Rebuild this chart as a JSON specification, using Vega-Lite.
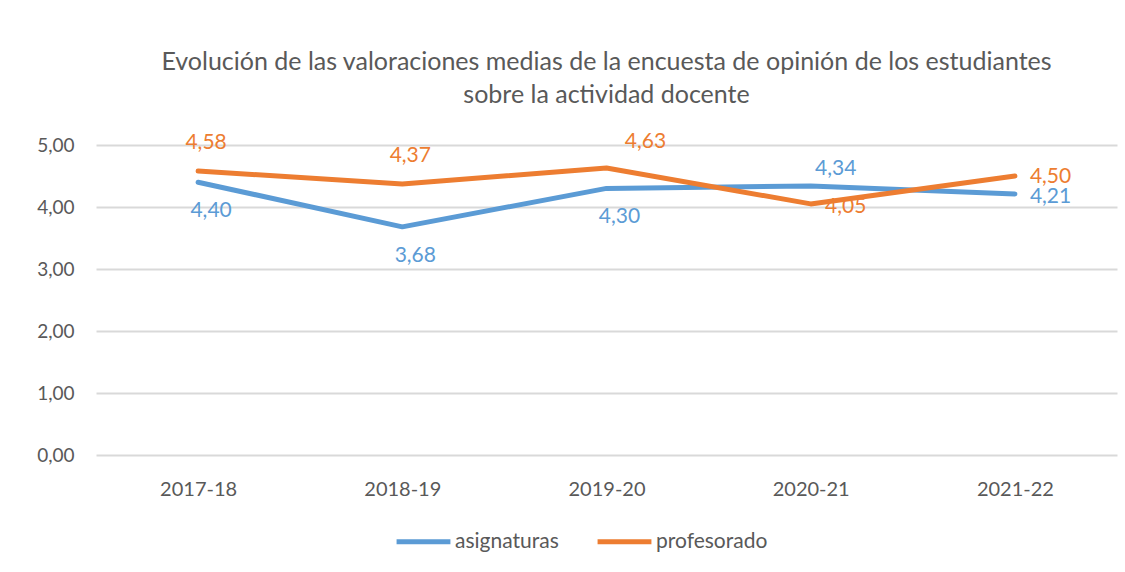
{
  "$schema": "https://vega.github.io/schema/vega-lite/v6.json",
  "autosize": {"type": "none"},
  "width": 1021,
  "height": 310,
  "padding": {"left": 96, "top": 145, "right": 8, "bottom": 117},
  "background": "white",
  "config": {
    "locale": {"number": {"decimal": ",", "thousands": ".", "grouping": [3], "currency": ["", " €"]}},
    "font": "Lato",
    "view": {"stroke": null}
  },
  "title": {
    "text": ["Evolución de las valoraciones medias de la encuesta de opinión de los estudiantes", "sobre la actividad docente"],
    "font": "Lato",
    "fontSize": 25,
    "fontWeight": "normal",
    "color": "#595959",
    "lineHeight": 33,
    "anchor": "middle",
    "offset": 23
  },
  "data": {"values": [
    {"curso": "2017-18", "serie": "asignaturas", "valor": 4.40},
    {"curso": "2018-19", "serie": "asignaturas", "valor": 3.68},
    {"curso": "2019-20", "serie": "asignaturas", "valor": 4.30},
    {"curso": "2020-21", "serie": "asignaturas", "valor": 4.34},
    {"curso": "2021-22", "serie": "asignaturas", "valor": 4.21},
    {"curso": "2017-18", "serie": "profesorado", "valor": 4.58},
    {"curso": "2018-19", "serie": "profesorado", "valor": 4.37},
    {"curso": "2019-20", "serie": "profesorado", "valor": 4.63},
    {"curso": "2020-21", "serie": "profesorado", "valor": 4.05},
    {"curso": "2021-22", "serie": "profesorado", "valor": 4.50}
  ]},
  "encoding": {
    "x": {"field": "curso", "type": "ordinal", "scale": {"type": "point", "padding": 0.5},
      "axis": {"title": null, "labelAngle": 0, "domain": false, "ticks": false, "labelFont": "Lato", "labelFontSize": 20, "labelColor": "#595959", "labelPadding": 24}},
    "y": {"field": "valor", "type": "quantitative", "scale": {"domain": [0, 5]},
      "axis": {"title": null, "values": [0, 1, 2, 3, 4, 5], "format": ".2f", "domain": false, "ticks": false, "gridColor": "#D9D9D9", "gridWidth": 2, "labelFont": "Lato", "labelFontSize": 19, "labelColor": "#595959", "labelPadding": 22}},
    "color": {"field": "serie", "type": "nominal",
      "scale": {"domain": ["asignaturas", "profesorado"], "range": ["#5B9BD5", "#ED7D31"]},
      "legend": {"title": null, "orient": "none", "legendX": 298, "legendY": 367, "direction": "horizontal", "symbolType": "stroke", "symbolStrokeWidth": 5, "symbolSize": 2900, "labelFont": "Lato", "labelFontSize": 21, "labelColor": "#595959", "columnPadding": 28, "labelOffset": 2}}
  },
  "layer": [
    {"mark": {"type": "line", "strokeWidth": 5, "strokeCap": "round", "strokeJoin": "round"}},
    {"transform": [{"filter": "datum.serie == 'profesorado' && (datum.curso == '2017-18' || datum.curso == '2018-19')"}],
     "mark": {"type": "text", "fontSize": 21, "dy": -28, "dx": 8},
     "encoding": {"text": {"field": "valor", "type": "quantitative", "format": ".2f"}}},
    {"transform": [{"filter": "datum.serie == 'profesorado' && datum.curso == '2019-20'"}],
     "mark": {"type": "text", "fontSize": 21, "dy": -26, "dx": 39},
     "encoding": {"text": {"field": "valor", "type": "quantitative", "format": ".2f"}}},
    {"transform": [{"filter": "datum.serie == 'profesorado' && datum.curso == '2020-21'"}],
     "mark": {"type": "text", "fontSize": 21, "dy": 3, "dx": 35},
     "encoding": {"text": {"field": "valor", "type": "quantitative", "format": ".2f"}}},
    {"transform": [{"filter": "datum.serie == 'profesorado' && datum.curso == '2021-22'"}],
     "mark": {"type": "text", "fontSize": 21, "align": "left", "dx": 15, "dy": 1},
     "encoding": {"text": {"field": "valor", "type": "quantitative", "format": ".2f"}}},
    {"transform": [{"filter": "datum.serie == 'asignaturas' && datum.curso == '2021-22'"}],
     "mark": {"type": "text", "fontSize": 21, "align": "left", "dx": 15, "dy": 3},
     "encoding": {"text": {"field": "valor", "type": "quantitative", "format": ".2f"}}},
    {"transform": [{"filter": "datum.serie == 'asignaturas' && datum.curso != '2020-21' && datum.curso != '2021-22'"}],
     "mark": {"type": "text", "fontSize": 21, "dy": 29, "dx": 13},
     "encoding": {"text": {"field": "valor", "type": "quantitative", "format": ".2f"}}},
    {"transform": [{"filter": "datum.serie == 'asignaturas' && datum.curso == '2020-21'"}],
     "mark": {"type": "text", "fontSize": 21, "dy": -17, "dx": 25},
     "encoding": {"text": {"field": "valor", "type": "quantitative", "format": ".2f"}}}
  ]
}
